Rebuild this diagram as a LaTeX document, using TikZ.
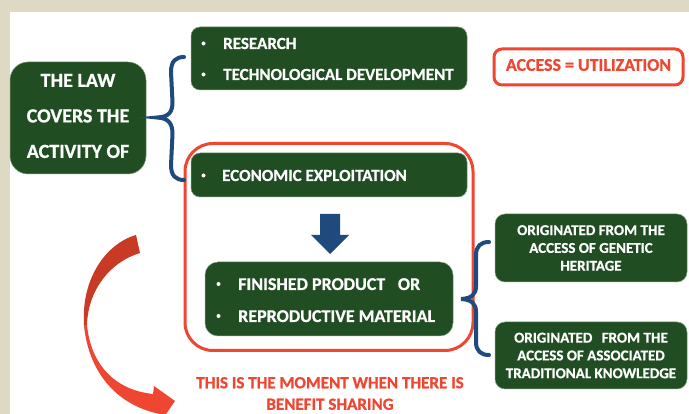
\documentclass[tikz,border=0pt]{standalone}
\usepackage{fontspec}
\setmainfont{Carlito}[BoldFont={Carlito Bold},BoldFeatures={FakeBold=0.8}]
\usetikzlibrary{calc}
\definecolor{pagebg}{HTML}{DDD9C3}
\definecolor{boxgreen}{HTML}{214D23}
\definecolor{edgegreen}{HTML}{7F9E80}
\definecolor{redline}{HTML}{EE4630}
\definecolor{reddark}{HTML}{C93A24}
\definecolor{bluebrace}{HTML}{1F4A7D}
\tikzset{
  greenbox/.style={draw=edgegreen,line width=0.5pt,fill=boxgreen,rounded corners=#1},
  greenbox/.default=9pt,
  wtext/.style={text=white,font=\bfseries,inner sep=0pt},
  blist/.style={wtext,anchor=base west,font=\fontsize{17}{17}\selectfont\bfseries},
  blistb/.style={wtext,anchor=base west,font=\fontsize{18}{18}\selectfont\bfseries},
  bullet/.style={circle,fill=white,inner sep=0pt,minimum size=4pt},
  rbox/.style={draw=redline,line width=3pt},
  brace/.style={draw=bluebrace,line width=4pt,line cap=round},
  boxtext/.style={wtext,align=center,font=\fontsize{15}{17.8}\selectfont\bfseries},
  redtext/.style={text=redline,inner sep=0pt,align=center}
}
\begin{document}
\begin{tikzpicture}[x=1pt,y=-1pt]
\useasboundingbox (0,0) rectangle (689,414);
\fill[pagebg] (0,0) rectangle (689,414);
\fill[white] (10,12) rectangle (689,414);
% boxes
\draw[greenbox=18pt] (10,62) rectangle (146,174);
\node[wtext,align=center,font=\fontsize{20}{35.5}\selectfont\bfseries] (law) at (78,116) {THE LAW\\COVERS THE\\ACTIVITY OF};
\draw[greenbox=9pt] (191,27) rectangle (467,90);
\node[bullet] (b1) at (203.5,43.5) {};
\node[blist] (research) at (223,49) {RESEARCH};
\node[bullet] (b2) at (203.5,74.5) {};
\node[blist] (tech) at (223,80) {TECHNOLOGICAL DEVELOPMENT};
\draw[greenbox=9pt] (191,153) rectangle (467,197);
\node[bullet] (b3) at (203.5,175.5) {};
\node[blist] (econ) at (222,181) {ECONOMIC EXPLOITATION};
\draw[rbox,rounded corners=28pt] (185,143.5) rectangle (473,350.5);
\draw[rbox,rounded corners=8pt] (494,49) rectangle (683,85);
\node[redtext,font=\fontsize{17.9}{17.9}\selectfont\bfseries] (access) at (588.5,65) {ACCESS = UTILIZATION};
% down arrow
\fill[bluebrace] (320,214) -- (340,214) -- (340,235) -- (349,235) -- (330,254) -- (311,235) -- (320,235) -- cycle;
\draw[greenbox=13pt] (205,262) rectangle (453,336);
\node[bullet] (b4) at (218.5,284) {};
\node[blistb] (fin) at (238,290) {FINISHED PRODUCT\hspace{0.7em}OR};
\node[bullet] (b5) at (218.5,316) {};
\node[blistb] (rep) at (238,322) {REPRODUCTIVE MATERIAL};
\draw[greenbox=10pt] (495,214) rectangle (687,282);
\node[boxtext] (gen) at (591,248) {ORIGINATED FROM THE\\ACCESS OF GENETIC\\HERITAGE};
\draw[greenbox=10pt] (495,322) rectangle (687,389);
\node[boxtext] (trad) at (591,355.5) {ORIGINATED\hspace{0.4em} FROM THE\\ACCESS OF ASSOCIATED\\TRADITIONAL KNOWLEDGE};
% braces
\coordinate (lt) at (184,57); \coordinate (lm) at (157,117.5); \coordinate (lb) at (184,180);
\draw[brace] (lt) .. controls (176,57) and (171,61) .. (171,72) -- (172.5,102)
   .. controls (172.5,112) and (169,117) .. (lm) .. controls (169,118) and (172.5,124) .. (172.5,134)
   -- (171,165) .. controls (171,176) and (176,180) .. (lb);
\coordinate (rt) at (489,242); \coordinate (rm) at (461,299); \coordinate (rb) at (489,355);
\draw[brace] (rt) .. controls (481,242) and (476,246) .. (476,255) -- (476,286)
   .. controls (476,294) and (472,298.5) .. (rm) .. controls (472,299.5) and (476,304) .. (476,312)
   -- (476,342) .. controls (476,351) and (481,355) .. (rb);
% curved arrow
\begin{scope}
\clip (0,0) rectangle (689,414);
\fill[reddark] (136,235) -- (140,253) .. controls (110,262) and (88,290) .. (87,325)
   -- (84,325) .. controls (81,280) and (105,244) .. (136,235) -- cycle;
\fill[redline] (84,325) -- (87,325) .. controls (91,365) and (115,390) .. (153,394)
   -- (154,386) -- (175,401) -- (164,417) -- (160,414)
   .. controls (115,405) and (88,370) .. (84,325) -- cycle;
\end{scope}
\node[redtext,font=\fontsize{17}{21.5}\selectfont\bfseries] (moment) at (330,393.5) {THIS IS THE MOMENT WHEN THERE IS\\BENEFIT SHARING};
\end{tikzpicture}
\end{document}
